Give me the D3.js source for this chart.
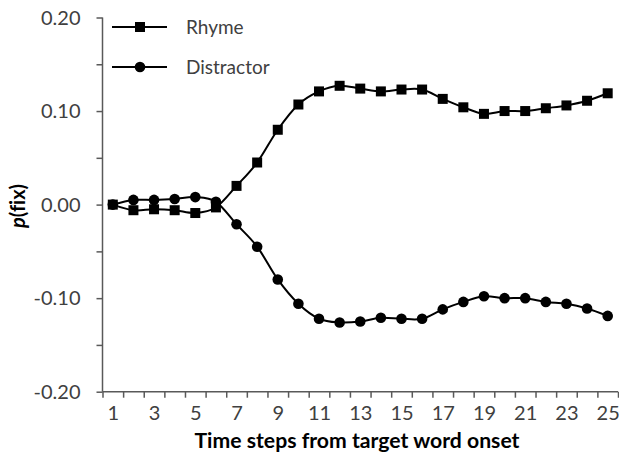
<!DOCTYPE html>
<html>
<head>
<meta charset="utf-8">
<script src="https://cdn.jsdelivr.net/npm/d3@7"></script>
<style>
  body { margin: 0; background: #fff; }
  svg { display: block; font-variant-ligatures: none; }
  .tick text { font-family: Lato, "Open Sans", sans-serif; fill: #404040; }
</style>
</head>
<body>
<script>
// time steps and the two series
const steps = d3.range(1, 26);
const rhyme = [0.000, -0.006, -0.005, -0.006, -0.009, -0.003, 0.020, 0.045, 0.080, 0.107,
               0.121, 0.127, 0.124, 0.121, 0.123, 0.123, 0.113, 0.104, 0.097, 0.100,
               0.100, 0.103, 0.106, 0.111, 0.119];
const distractor = [0.000, 0.005, 0.005, 0.006, 0.008, 0.003, -0.021, -0.045, -0.080, -0.106,
                    -0.122, -0.126, -0.125, -0.121, -0.122, -0.122, -0.112, -0.104, -0.098, -0.100,
                    -0.100, -0.104, -0.106, -0.111, -0.119];
const yTicks = [-0.20, -0.10, 0.00, 0.10, 0.20];
const yMinorTicks = [-0.20, -0.15, -0.10, -0.05, 0.00, 0.05, 0.10, 0.15, 0.20];
const xLabels = [1, 3, 5, 7, 9, 11, 13, 15, 17, 19, 21, 23, 25];

const width = 619, height = 454;
const axisColor = "#595959";

const svg = d3.select("body").append("svg")
    .attr("width", width)
    .attr("height", height);

// category axis: each step sits in a band, ticks between bands
const x = d3.scaleLinear().domain([0.5, 25.5]).range([102.5, 618]);
const y = d3.scaleLinear().domain([-0.2, 0.2]).range([391.7, 17.5]);

// plain hyphen minus, as in the original
const fmtY = d => d3.format(".2f")(d).replace("\u2212", "-");

// y axis
svg.append("g")
    .attr("transform", "translate(102.5,0)")
    .call(d3.axisLeft(y).tickValues(yMinorTicks).tickSize(6).tickFormat(""))
    .call(g => g.selectAll("line, path").attr("stroke", axisColor).attr("stroke-width", 1.5))
    .call(g => g.select(".domain").attr("d", `M0,${y(0.2)}V${y(-0.2)}`));

svg.append("g")
    .attr("transform", "translate(102.5,0)")
    .call(d3.axisLeft(y).tickValues(yTicks).tickSize(0).tickPadding(22).tickFormat(fmtY))
    .call(g => g.select(".domain").remove())
    .call(g => g.selectAll("text").attr("font-size", 20).attr("dy", "0.34em"));

// x axis
svg.append("g")
    .attr("transform", `translate(0,${y(-0.2)})`)
    .call(d3.axisBottom(x).tickValues(d3.range(0.5, 26, 1)).tickSize(6).tickFormat(""))
    .call(g => g.selectAll("line, path").attr("stroke", axisColor).attr("stroke-width", 1.5))
    .call(g => g.select(".domain").attr("d", `M${x(0.5)},0H${x(25.5)}`));

svg.append("g")
    .attr("transform", `translate(0,${y(-0.2)})`)
    .call(d3.axisBottom(x).tickValues(xLabels).tickSize(0).tickPadding(22).tickFormat(d3.format("d")))
    .call(g => g.select(".domain").remove())
    .call(g => g.selectAll("text").attr("font-size", 20).attr("dy", "0.3em"));

// axis titles
svg.append("text")
    .attr("x", 357)
    .attr("y", 448)
    .attr("text-anchor", "middle")
    .attr("font-family", "Lato, 'Open Sans', sans-serif")
    .attr("font-weight", "bold")
    .attr("font-size", 20)
    .attr("textLength", 325)
    .attr("lengthAdjust", "spacingAndGlyphs")
    .attr("fill", "#000")
    .text("Time steps from target word onset");

const yTitle = svg.append("text")
    .attr("transform", "translate(25,206) rotate(-90)")
    .attr("text-anchor", "middle")
    .attr("font-family", "Lato, 'Open Sans', sans-serif")
    .attr("font-weight", "bold")
    .attr("font-size", 20)
    .attr("fill", "#000");
yTitle.append("tspan").attr("font-style", "italic").text("p");
yTitle.append("tspan").text("(fix)");

// smooth lines like the spreadsheet original
const line = d3.line()
    .x((d, i) => x(steps[i]))
    .y(d => y(d))
    .curve(d3.curveCatmullRom.alpha(0));

const series = [
    { name: "Rhyme", values: rhyme, shape: "square" },
    { name: "Distractor", values: distractor, shape: "circle" }
];

function drawMarker(g, shape, cx, cy) {
    if (shape === "square") {
        g.append("rect")
            .attr("x", cx - 5).attr("y", cy - 5)
            .attr("width", 10).attr("height", 10)
            .attr("fill", "#000");
    } else {
        g.append("circle")
            .attr("cx", cx).attr("cy", cy).attr("r", 5.3)
            .attr("fill", "#000");
    }
}

series.forEach(s => {
    svg.append("path")
        .datum(s.values)
        .attr("fill", "none")
        .attr("stroke", "#000")
        .attr("stroke-width", 2)
        .attr("d", line);

    const marks = svg.append("g");
    s.values.forEach((v, i) => drawMarker(marks, s.shape, x(steps[i]), y(v)));
});

// legend
const legend = svg.append("g");
series.forEach((s, i) => {
    const ly = 27 + i * 40;
    legend.append("line")
        .attr("x1", 112).attr("x2", 167)
        .attr("y1", ly).attr("y2", ly)
        .attr("stroke", "#000").attr("stroke-width", 2);
    drawMarker(legend, s.shape, 140, ly);
    legend.append("text")
        .attr("x", 186).attr("y", ly)
        .attr("dy", "0.35em")
        .attr("font-family", "Lato, 'Open Sans', sans-serif")
        .attr("font-size", 19)
        .attr("fill", "#404040")
        .text(s.name);
});
</script>
</body>
</html>
